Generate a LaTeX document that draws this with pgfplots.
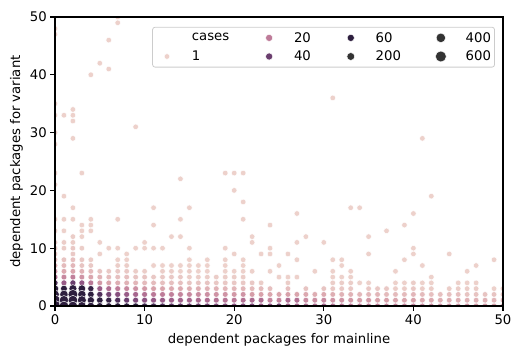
\documentclass[border=0pt]{standalone}
\usepackage{fontspec}
\setmainfont{DejaVu Sans}
\usepackage{pgfplots}
\usepackage{pgfplotstable}
\pgfplotsset{compat=1.18}
\definecolor{cA}{RGB}{237,209,203}
\definecolor{c20}{RGB}{190,123,153}
\definecolor{c40}{RGB}{106,62,110}
\definecolor{c60}{RGB}{45,30,62}
\definecolor{sz}{RGB}{51,51,51}
\definecolor{legedge}{RGB}{204,204,204}
\pgfplotstableread[row sep=\\]{
x y c\\
7 50 1\\ 7 49 1\\ 0 48 1\\ 0 47 1\\ 6 46 1\\ 5 42 1\\ 6 41 1\\ 4 40 1\\ 31 36 1\\ 0 35 1\\ 2 34 1\\ 0 33 1\\ 1 33 1\\ 2 33 1\\ 2 32 1\\ 9 31 1\\ 0 30 1\\ 2 29 1\\ 41 29 1\\ 0 28 1\\ 0 23 1\\ 3 23 1\\ 19 23 1\\ 20 23 1\\ 21 23 1\\ 14 22 1\\ 0 21 1\\ 20 20 1\\ 1 19 1\\ 42 19 1\\ 21 18 1\\ 2 17 1\\ 11 17 1\\ 15 17 1\\ 33 17 1\\ 34 17 1\\ 27 16 1\\ 40 16 1\\
0 15 2\\ 1 15 1\\ 2 15 1\\ 4 15 1\\ 7 15 1\\ 14 15 1\\ 21 15 1\\
3 14 1\\ 4 14 1\\ 11 14 1\\ 24 14 1\\ 39 14 1\\
0 13 2\\ 1 13 1\\ 3 13 1\\ 4 13 1\\ 37 13 1\\
2 12 2\\ 3 12 1\\ 13 12 1\\ 14 12 1\\ 22 12 1\\ 28 12 1\\ 35 12 1\\
0 11 3\\ 1 11 2\\ 2 11 2\\ 5 11 1\\ 10 11 1\\ 22 11 1\\ 27 11 1\\ 30 11 1\\
0 10 3\\ 1 10 2\\ 2 10 3\\ 3 10 2\\ 6 10 1\\ 7 10 1\\ 9 10 1\\ 10 10 1\\ 11 10 1\\ 12 10 1\\ 15 10 1\\ 19 10 1\\ 24 10 1\\ 40 10 1\\
0 9 4\\ 2 9 3\\ 5 9 1\\ 8 9 1\\ 20 9 1\\ 23 9 1\\ 24 9 1\\ 26 9 1\\ 35 9 1\\ 40 9 1\\ 44 9 1\\
0 8 6\\ 1 8 4\\ 2 8 5\\ 3 8 3\\ 4 8 2\\ 7 8 1\\ 8 8 1\\ 15 8 1\\ 17 8 1\\ 19 8 1\\ 21 8 1\\ 27 8 1\\ 31 8 1\\ 32 8 1\\ 39 8 1\\ 49 8 1\\
0 7 9\\ 1 7 6\\ 2 7 7\\ 3 7 4\\ 4 7 3\\ 7 7 2\\ 8 7 2\\ 11 7 1\\ 12 7 1\\ 13 7 1\\ 14 7 1\\ 15 7 1\\ 16 7 1\\ 17 7 1\\ 19 7 1\\ 21 7 1\\ 25 7 1\\ 32 7 1\\ 41 7 1\\ 47 7 1\\
0 6 15\\ 1 6 10\\ 2 6 11\\ 3 6 8\\ 4 6 6\\ 5 6 4\\ 6 6 3\\ 7 6 3\\ 8 6 3\\ 9 6 2\\ 10 6 2\\ 12 6 2\\ 13 6 2\\ 14 6 1\\ 15 6 2\\ 16 6 1\\ 17 6 1\\ 19 6 1\\ 20 6 1\\ 21 6 1\\ 22 6 1\\ 24 6 1\\ 29 6 1\\ 31 6 1\\ 33 6 1\\ 38 6 1\\ 46 6 1\\
0 5 25\\ 1 5 18\\ 2 5 20\\ 3 5 15\\ 4 5 11\\ 5 5 8\\ 6 5 6\\ 7 5 5\\ 8 5 5\\ 9 5 4\\ 10 5 4\\ 11 5 3\\ 12 5 3\\ 13 5 3\\ 14 5 3\\ 15 5 2\\ 16 5 2\\ 17 5 2\\ 18 5 2\\ 19 5 2\\ 20 5 2\\ 21 5 2\\ 25 5 1\\ 26 5 1\\ 27 5 1\\ 31 5 1\\ 32 5 1\\ 33 5 1\\ 42 5 1\\
0 4 45\\ 1 4 30\\ 2 4 40\\ 3 4 32\\ 4 4 22\\ 5 4 14\\ 6 4 11\\ 7 4 9\\ 8 4 8\\ 9 4 7\\ 10 4 6\\ 11 4 6\\ 12 4 5\\ 13 4 5\\ 14 4 5\\ 15 4 4\\ 16 4 4\\ 17 4 4\\ 18 4 3\\ 19 4 3\\ 20 4 3\\ 21 4 3\\ 22 4 3\\ 23 4 2\\ 26 4 2\\ 31 4 2\\ 32 4 2\\ 33 4 2\\ 34 4 1\\ 35 4 1\\ 38 4 1\\ 39 4 1\\ 40 4 2\\ 41 4 1\\ 42 4 1\\ 45 4 1\\ 46 4 1\\ 47 4 1\\
0 3 150\\ 1 3 100\\ 2 3 220\\ 3 3 180\\ 4 3 50\\ 5 3 30\\ 6 3 25\\ 7 3 21\\ 8 3 18\\ 9 3 16\\ 10 3 14\\ 11 3 12\\ 12 3 11\\ 13 3 10\\ 14 3 10\\ 15 3 9\\ 16 3 9\\ 17 3 8\\ 18 3 8\\ 19 3 7\\ 20 3 7\\ 21 3 7\\ 22 3 6\\ 23 3 6\\ 24 3 5\\ 26 3 5\\ 28 3 4\\ 30 3 4\\ 31 3 3\\ 32 3 3\\ 33 3 3\\ 35 3 3\\ 36 3 3\\ 37 3 3\\ 38 3 2\\ 39 3 2\\ 40 3 3\\ 41 3 2\\ 42 3 2\\ 44 3 2\\ 45 3 2\\ 46 3 2\\ 47 3 2\\ 49 3 1\\ 50 3 1\\
0 2 300\\ 1 2 280\\ 2 2 450\\ 3 2 260\\ 4 2 90\\ 5 2 45\\ 6 2 38\\ 7 2 34\\ 8 2 30\\ 9 2 27\\ 10 2 24\\ 11 2 22\\ 12 2 21\\ 13 2 20\\ 14 2 19\\ 15 2 18\\ 16 2 17\\ 17 2 16\\ 18 2 15\\ 19 2 15\\ 20 2 14\\ 21 2 15\\ 22 2 13\\ 23 2 12\\ 24 2 11\\ 25 2 11\\ 26 2 12\\ 27 2 11\\ 28 2 10\\ 29 2 9\\ 30 2 10\\ 31 2 9\\ 32 2 8\\ 33 2 8\\ 34 2 7\\ 35 2 7\\ 36 2 7\\ 37 2 6\\ 38 2 6\\ 39 2 6\\ 40 2 7\\ 41 2 6\\ 42 2 5\\ 43 2 5\\ 44 2 5\\ 45 2 5\\ 46 2 4\\ 47 2 4\\ 48 2 4\\ 49 2 4\\ 50 2 3\\
0 1 550\\ 1 1 380\\ 2 1 420\\ 3 1 330\\ 4 1 140\\ 5 1 85\\ 6 1 50\\ 7 1 45\\ 8 1 40\\ 9 1 36\\ 10 1 33\\ 11 1 31\\ 12 1 30\\ 13 1 29\\ 14 1 28\\ 15 1 27\\ 16 1 26\\ 17 1 25\\ 18 1 24\\ 19 1 23\\ 20 1 22\\ 21 1 24\\ 22 1 26\\ 23 1 25\\ 24 1 19\\ 25 1 19\\ 26 1 25\\ 27 1 24\\ 28 1 17\\ 29 1 16\\ 30 1 18\\ 31 1 15\\ 32 1 15\\ 33 1 14\\ 34 1 13\\ 35 1 14\\ 36 1 12\\ 37 1 12\\ 38 1 11\\ 39 1 11\\ 40 1 12\\ 41 1 10\\ 42 1 10\\ 43 1 9\\ 44 1 9\\ 45 1 9\\ 46 1 8\\ 47 1 8\\ 48 1 8\\ 49 1 7\\ 50 1 7\\
0 0 650\\ 1 0 420\\ 2 0 400\\ 3 0 300\\ 4 0 160\\ 5 0 100\\ 6 0 75\\ 7 0 65\\ 8 0 58\\ 9 0 52\\ 10 0 48\\ 11 0 46\\ 12 0 44\\ 13 0 42\\ 14 0 41\\ 15 0 40\\ 16 0 38\\ 17 0 37\\ 18 0 35\\ 19 0 34\\ 20 0 33\\ 21 0 34\\ 22 0 36\\ 23 0 30\\ 24 0 33\\ 25 0 38\\ 26 0 28\\ 27 0 27\\ 28 0 26\\ 29 0 25\\ 30 0 27\\ 31 0 24\\ 32 0 23\\ 33 0 22\\ 34 0 21\\ 35 0 21\\ 36 0 20\\ 37 0 19\\ 38 0 19\\ 39 0 18\\ 40 0 19\\ 41 0 17\\ 42 0 17\\ 43 0 16\\ 44 0 16\\ 45 0 15\\ 46 0 15\\ 47 0 14\\ 48 0 14\\ 49 0 13\\ 50 0 13\\
}\data
\begin{document}
\begin{tikzpicture}
\begin{axis}[
  scale only axis, width=448bp, height=289bp,
  xmin=0, xmax=50, ymin=0, ymax=50,
  xtick={0,10,20,30,40,50}, ytick={0,10,20,30,40,50},
  tick pos=left, tick align=outside, major tick length=4.67bp,
  every tick/.style={black, line width=1.07bp},
  axis line style={black, line width=1.07bp},
  axis on top,
  clip marker paths=true,
  /pgf/number format/assume math mode=true,
  tick label style={font=\fontsize{13.3}{16}\selectfont},
  label style={font=\fontsize{13.3}{16}\selectfont},
  xlabel={dependent packages for mainline},
  ylabel={dependent packages for variant},
  xlabel style={at={(axis description cs:0.5,-0.1315)}, anchor=base},
  ylabel style={at={(axis description cs:-0.0781,0.5)}, anchor=base},
  colormap={ch}{rgb255=(237,209,203) rgb255=(218,164,172) rgb255=(189,122,152) rgb255=(147,86,133) rgb255=(97,57,105) rgb255=(45,30,62)},
  point meta min=1, point meta max=52,
  legend columns=4,
  legend cell align=left,
  legend style={at={(0.982,0.966)}, anchor=north east, draw=legedge, line width=0.8bp, rounded corners=2.5bp, fill=white, font=\fontsize{13.3}{16}\selectfont, inner xsep=1.5bp, inner ysep=3bp, row sep=3.3bp, /tikz/every even column/.append style={column sep=25bp}},
  legend image code/.code={\path (-12.5bp,0bp) (22.5bp,0bp); \draw[#1] plot coordinates {(0bp,0bp)};},
]
\addplot[scatter, only marks, mark=*, forget plot,
  point meta={min(\thisrow{c},52)},
  scatter/use mapped color={draw=white, fill=mapped color},
  visualization depends on={0.6667*sqrt(18+54*(\thisrow{c}-1)/649) \as \msize},
  scatter/@pre marker code/.append style={/tikz/mark size=\msize},
  mark options={line width=0.45bp}
] table[x=x, y=y] {\data};
\addlegendimage{empty legend}\addlegendentry{cases}
\addlegendimage{only marks, mark=*, mark size=3.6, mark options={fill=c20, draw=white, line width=0.45bp}}\addlegendentry{20}
\addlegendimage{only marks, mark=*, mark size=3.6, mark options={fill=c60, draw=white, line width=0.45bp}}\addlegendentry{60}
\addlegendimage{only marks, mark=*, mark size=4.77, mark options={fill=sz, draw=white, line width=0.45bp}}\addlegendentry{400}
\addlegendimage{only marks, mark=*, mark size=2.83, mark options={fill=cA, draw=white, line width=0.45bp}}\addlegendentry{1}
\addlegendimage{only marks, mark=*, mark size=3.6, mark options={fill=c40, draw=white, line width=0.45bp}}\addlegendentry{40}
\addlegendimage{only marks, mark=*, mark size=3.92, mark options={fill=sz, draw=white, line width=0.45bp}}\addlegendentry{200}
\addlegendimage{only marks, mark=*, mark size=5.49, mark options={fill=sz, draw=white, line width=0.45bp}}\addlegendentry{600}
\end{axis}
\pgfresetboundingbox
\path ([xshift=-55bp,yshift=-42bp]current axis.south west) rectangle ([xshift=9bp,yshift=17bp]current axis.north east);
\end{tikzpicture}
\end{document}
